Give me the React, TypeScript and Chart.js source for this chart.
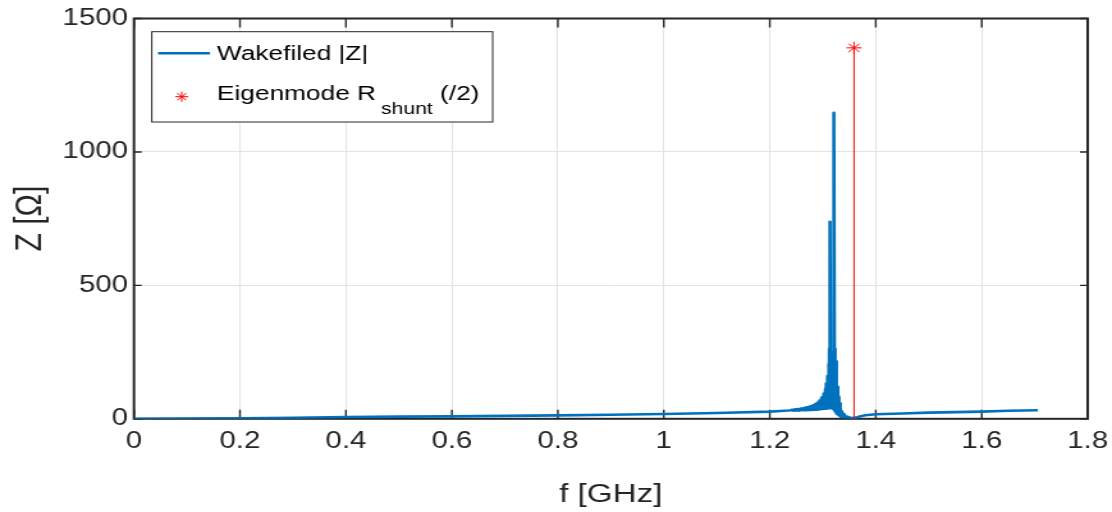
import React, { useEffect, useRef } from 'react';
import { Chart, registerables } from 'chart.js';

Chart.register(...registerables);

// Wakefield impedance magnitude |Z| versus frequency
const freqGHz = [
  0, 0.1, 0.2, 0.3, 0.4, 0.5, 0.6, 0.7, 0.8, 0.9, 1.0, 1.1, 1.2, 1.22, 1.235,
  1.24, 1.242, 1.244, 1.246, 1.248, 1.25, 1.252, 1.254, 1.256, 1.258, 1.26, 1.262, 1.264, 1.266, 1.268, 1.27,
  1.272, 1.274, 1.276, 1.278, 1.28, 1.282, 1.284, 1.286, 1.288, 1.29, 1.292, 1.294, 1.296, 1.298,
  1.3, 1.302, 1.304, 1.305, 1.306, 1.307, 1.308, 1.309, 1.31, 1.311, 1.3118, 1.3125, 1.3132,
  1.3139, 1.3146, 1.3153, 1.316, 1.3167, 1.3174, 1.3181, 1.3188, 1.3195, 1.3202, 1.3215, 1.3222,
  1.3229, 1.3236, 1.3243, 1.325, 1.3258, 1.3266, 1.3275, 1.3285, 1.3295, 1.3305, 1.3315, 1.3325,
  1.3335, 1.3345, 1.336, 1.338, 1.34, 1.343, 1.346, 1.35, 1.355, 1.36, 1.365,
  1.37, 1.38, 1.39, 1.4, 1.45, 1.5, 1.55, 1.6, 1.65, 1.706,
];
const impedanceOhm = [
  0, 1, 2, 4, 7, 8, 9, 11, 13, 15, 18, 22, 27, 29, 31,
  32, 34, 31, 35, 31, 36, 31, 37, 31, 38, 32, 39, 32, 41, 32, 43,
  32, 45, 33, 48, 33, 51, 34, 55, 34, 60, 35, 68, 36, 80,
  37, 95, 38, 112, 38, 132, 39, 160, 40, 205, 40, 262, 45,
  738, 42, 240, 40, 225, 40, 235, 38, 250, 36, 1147, 32,
  262, 28, 215, 24, 165, 20, 120, 16, 82, 13, 58, 10,
  42, 8, 28, 6, 18, 5, 8, 5, 3, 4, 6,
  9, 13, 15, 17, 20, 23, 25, 27, 30, 32,
];

// Eigenmode shunt impedance (halved), drawn as a stem with a marker on top
const eigenFreqGHz = [1.359, 1.359];
const eigenShuntOhm = [0, 1390];

// Axis ticks
const xTickValues = [0, 0.2, 0.4, 0.6, 0.8, 1, 1.2, 1.4, 1.6, 1.8];
const yTickValues = [0, 500, 1000, 1500];

const BLUE = '#0072BD';
const RED = '#FF0000';
const AXIS = '#262626';
const GRID = '#e3e3e3';
const FONT = "'Liberation Sans', Arial, Helvetica, sans-serif";

// The figure is drawn on a narrower bitmap and widened by CSS
const OUT_W = 1112;
const OUT_H = 512;
const W = 869;
const H = 512;

const framePlugin = {
  id: 'matlabFrame',
  beforeDatasetsDraw(chart: any) {
    const { ctx, chartArea, scales } = chart;
    const { left, right, top, bottom } = chartArea;
    const x = scales.x;
    const y = scales.y;
    ctx.save();
    ctx.strokeStyle = AXIS;
    ctx.lineWidth = 1.4;
    ctx.beginPath();
    x.ticks.forEach((t: any) => {
      const px = x.getPixelForValue(t.value);
      ctx.moveTo(px, bottom);
      ctx.lineTo(px, bottom - 9);
      ctx.moveTo(px, top);
      ctx.lineTo(px, top + 9);
    });
    y.ticks.forEach((t: any) => {
      const py = y.getPixelForValue(t.value);
      ctx.moveTo(left, py);
      ctx.lineTo(left + 6, py);
      ctx.moveTo(right, py);
      ctx.lineTo(right - 6, py);
    });
    ctx.stroke();
    ctx.lineWidth = 2;
    ctx.strokeRect(left, top, right - left, bottom - top);
    ctx.restore();
  },
};

const legendPlugin = {
  id: 'matlabLegend',
  afterDatasetsDraw(chart: any) {
    const { ctx } = chart;
    const bx = 118.6;
    const by = 31.7;
    const bw = 385 - 118.6;
    const bh = 122 - 31.7;
    ctx.save();
    ctx.fillStyle = '#ffffff';
    ctx.fillRect(bx, by, bw, bh);
    ctx.strokeStyle = AXIS;
    ctx.lineWidth = 1;
    ctx.strokeRect(bx, by, bw, bh);

    // line sample
    ctx.strokeStyle = BLUE;
    ctx.lineWidth = 2.4;
    ctx.beginPath();
    ctx.moveTo(123.5, 53.3);
    ctx.lineTo(164.1, 53.3);
    ctx.stroke();

    // asterisk sample
    const sx = 142;
    const sy = 96.7;
    const r = 5;
    const d = r * Math.SQRT1_2;
    ctx.strokeStyle = RED;
    ctx.lineWidth = 1;
    ctx.beginPath();
    ctx.moveTo(sx, sy - r);
    ctx.lineTo(sx, sy + r);
    ctx.moveTo(sx - r, sy);
    ctx.lineTo(sx + r, sy);
    ctx.moveTo(sx - d, sy - d);
    ctx.lineTo(sx + d, sy + d);
    ctx.moveTo(sx - d, sy + d);
    ctx.lineTo(sx + d, sy - d);
    ctx.stroke();

    ctx.fillStyle = '#000000';
    ctx.textBaseline = 'middle';
    ctx.textAlign = 'left';
    ctx.font = `20.5px ${FONT}`;
    ctx.fillText('Wakefiled |Z|', 169.6, 54.3);

    const tx = 169.6;
    const ty = 94.3;
    const main = 'Eigenmode R';
    ctx.fillText(main, tx, ty);
    const mw = ctx.measureText(main).width;
    ctx.font = `16.5px ${FONT}`;
    const sub = 'shunt';
    const subX = tx + mw + 4;
    ctx.fillText(sub, subX, 109.5);
    const sw = ctx.measureText(sub).width;
    ctx.font = `20.5px ${FONT}`;
    ctx.fillText(' (/2)', subX + sw, ty);
    ctx.restore();
  },
};

export default function App() {
  const canvasRef = useRef<HTMLCanvasElement | null>(null);

  useEffect(() => {
    const canvas = canvasRef.current;
    if (!canvas) return;
    Chart.defaults.font.family = FONT;

    const wakeData = freqGHz.map((f, i) => ({ x: f, y: impedanceOhm[i] }));
    const eigenData = eigenFreqGHz.map((f, i) => ({ x: f, y: eigenShuntOhm[i] }));

    const chart = new Chart(canvas, {
      type: 'scatter',
      data: {
        datasets: [
          {
            label: 'Eigenmode R_shunt (/2)',
            data: eigenData,
            showLine: true,
            borderColor: RED,
            borderWidth: 1,
            pointStyle: 'star',
            pointRadius: [0, 6],
            pointBorderColor: RED,
            pointBackgroundColor: RED,
            pointBorderWidth: 1,
          },
          {
            label: 'Wakefiled |Z|',
            data: wakeData,
            showLine: true,
            borderColor: BLUE,
            borderWidth: 2.6,
            borderJoinStyle: 'round',
            pointRadius: 0,
            pointHoverRadius: 0,
          },
        ],
      },
      options: {
        responsive: false,
        devicePixelRatio: 1,
        animation: false,
        events: [],
        layout: { padding: { left: 0, right: 19, top: 18.5, bottom: 0 } },
        plugins: {
          legend: { display: false },
          tooltip: { enabled: false },
        },
        scales: {
          x: {
            type: 'linear',
            min: 0,
            max: 1.8,
            afterBuildTicks: (s: any) => {
              s.ticks = xTickValues.map((v) => ({ value: v }));
            },
            afterFit: (s: any) => {
              s.height = H - 418.8;
              s.paddingLeft = 0;
              s.paddingRight = 0;
            },
            ticks: {
              color: AXIS,
              font: { size: 23 },
              padding: 9,
              maxRotation: 0,
              autoSkip: false,
              callback: (v: any) => String(Number(v)),
            },
            grid: { color: GRID, lineWidth: 1, drawTicks: false },
            border: { display: false },
            title: {
              display: true,
              text: 'f [GHz]',
              color: AXIS,
              font: { size: 26 },
              padding: { top: 0, bottom: 1.5 },
            },
          },
          y: {
            type: 'linear',
            min: 0,
            max: 1500,
            afterBuildTicks: (s: any) => {
              s.ticks = yTickValues.map((v) => ({ value: v }));
            },
            afterFit: (s: any) => {
              s.width = 104.7;
              s.paddingTop = 0;
              s.paddingBottom = 0;
            },
            ticks: {
              color: AXIS,
              font: { size: 23 },
              padding: 4.7,
              autoSkip: false,
              callback: (v: any) => String(Number(v)),
            },
            grid: { color: GRID, lineWidth: 1, drawTicks: false },
            border: { display: false },
            title: {
              display: true,
              text: 'Z [Ω]',
              color: AXIS,
              font: { size: 30 },
              padding: { top: 5.4, bottom: 0 },
            },
          },
        },
      },
      plugins: [framePlugin, legendPlugin],
    } as any);

    return () => chart.destroy();
  }, []);

  return (
    <div
      style={{
        position: 'fixed',
        left: 0,
        top: 0,
        width: OUT_W,
        height: OUT_H,
        background: '#ffffff',
        overflow: 'hidden',
      }}
    >
      <canvas
        ref={canvasRef}
        width={W}
        height={H}
        style={{ display: 'block', width: `${OUT_W}px`, height: `${OUT_H}px` }}
      />
    </div>
  );
}
